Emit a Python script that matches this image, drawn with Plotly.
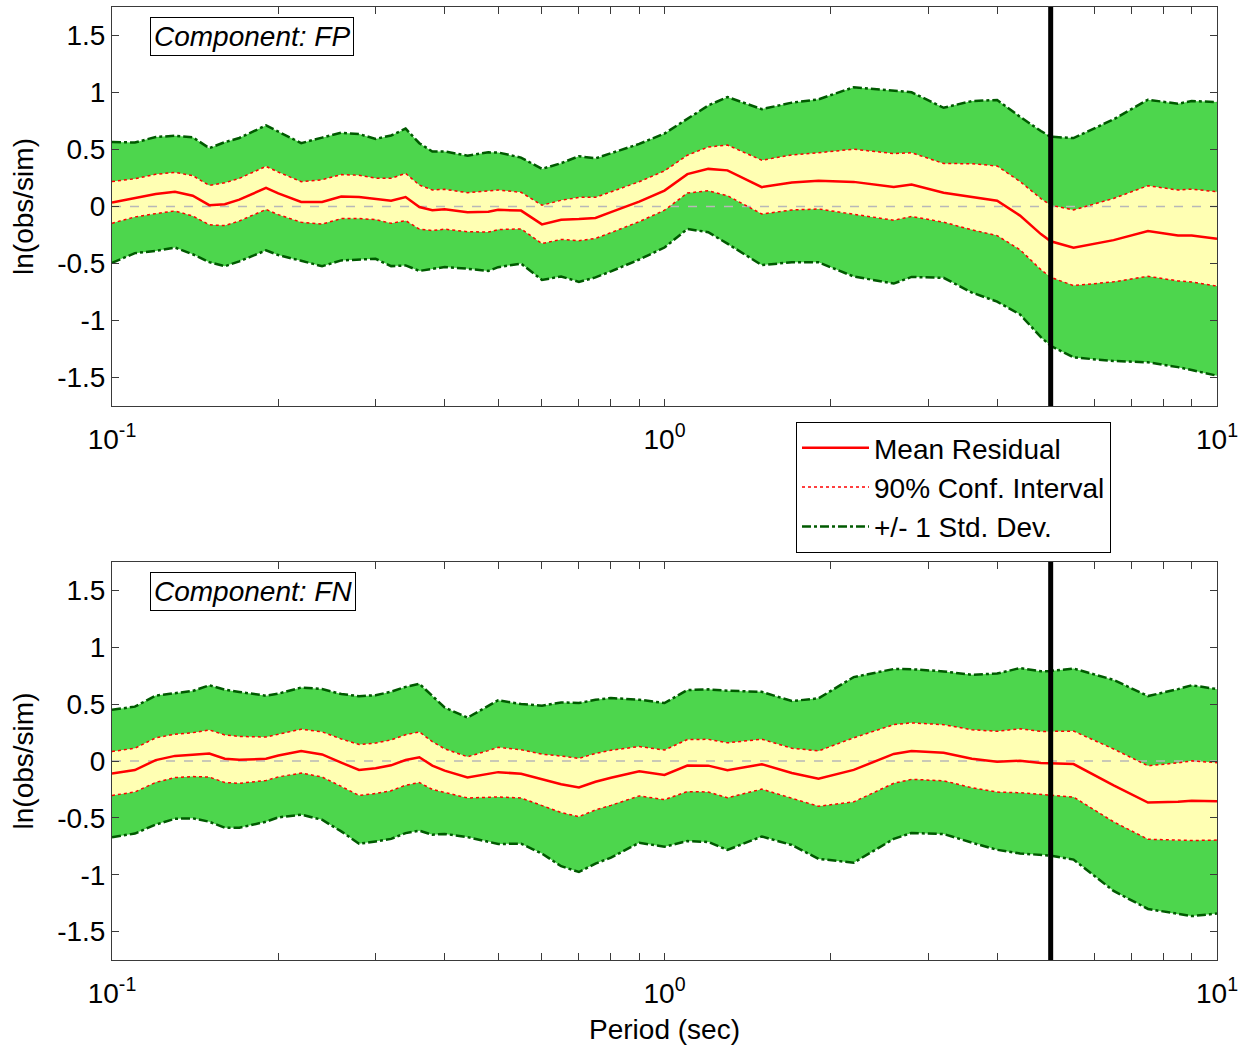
import plotly.graph_objects as go

# ---------------- data ----------------
periods = [0.1, 0.11, 0.12, 0.13, 0.14, 0.15, 0.16, 0.17, 0.19, 0.2,
           0.22, 0.24, 0.26, 0.28, 0.3, 0.32, 0.34, 0.36, 0.38, 0.4,
           0.44, 0.48, 0.5, 0.55, 0.6, 0.65, 0.7, 0.75, 0.8, 0.9,
           1.0, 1.1, 1.2, 1.3, 1.5, 1.7, 1.9, 2.2, 2.6, 2.8,
           3.2, 3.6, 4.0, 4.4, 4.8, 5.0, 5.5, 6.5, 7.5, 8.5,
           9.0, 10.0]

fp_mean = [0.036, 0.076, 0.11, 0.13, 0.094, 0.012, 0.02, 0.06, 0.163, 0.115,
           0.04, 0.04, 0.087, 0.084, 0.067, 0.05, 0.083, -0.005, -0.033, -0.024,
           -0.05, -0.045, -0.029, -0.036, -0.157, -0.117, -0.11, -0.1, -0.05, 0.042,
           0.14, 0.284, 0.33, 0.317, 0.17, 0.211, 0.225, 0.216, 0.172, 0.192,
           0.12, 0.085, 0.05, -0.08, -0.242, -0.305, -0.362, -0.295, -0.215, -0.254,
           -0.255, -0.284]
fp_std = [0.53, 0.485, 0.50, 0.49, 0.513, 0.50, 0.544, 0.541, 0.548, 0.541,
          0.516, 0.564, 0.56, 0.551, 0.526, 0.573, 0.60, 0.56, 0.516, 0.507,
          0.496, 0.52, 0.503, 0.465, 0.487, 0.497, 0.551, 0.522, 0.519, 0.507,
          0.50, 0.481, 0.556, 0.643, 0.684, 0.70, 0.715, 0.83, 0.848, 0.81,
          0.746, 0.84, 0.885, 0.867, 0.904, 0.917, 0.962, 1.06, 1.152, 1.155,
          1.18, 1.2]

fn_mean = [-0.11, -0.08, 0.008, 0.045, 0.056, 0.066, 0.02, 0.01, 0.02, 0.048,
           0.087, 0.058, -0.015, -0.079, -0.064, -0.038, 0.009, 0.033, -0.04, -0.085,
           -0.144, -0.114, -0.098, -0.113, -0.164, -0.205, -0.233, -0.182, -0.148, -0.09,
           -0.122, -0.04, -0.041, -0.082, -0.028, -0.106, -0.155, -0.078, 0.062, 0.087,
           0.073, 0.02, -0.006, 0.002, -0.018, -0.02, -0.027, -0.215, -0.365, -0.358,
           -0.349, -0.355]
fn_std = [0.56, 0.558, 0.567, 0.553, 0.56, 0.60, 0.607, 0.597, 0.554, 0.544,
          0.559, 0.575, 0.604, 0.649, 0.643, 0.647, 0.643, 0.646, 0.608, 0.556,
          0.525, 0.595, 0.632, 0.614, 0.65, 0.72, 0.743, 0.72, 0.702, 0.629,
          0.632, 0.664, 0.671, 0.70, 0.636, 0.633, 0.706, 0.816, 0.747, 0.72,
          0.715, 0.738, 0.775, 0.815, 0.807, 0.812, 0.84, 0.928, 0.936, 0.99,
          1.015, 0.987]

# 90% confidence half-width relative to the standard deviation (t / sqrt(n))
CI90_FACTOR = 0.345
CUTOFF_PERIOD = 5.0

components = ["FP", "FN"]
legend_names = ["Mean Residual", "90% Conf. Interval", "+/- 1 Std. Dev."]
ytick_vals = [-1.5, -1, -0.5, 0, 0.5, 1, 1.5]
ytick_text = ["-1.5", "-1", "-0.5", "0", "0.5", "1", "1.5"]
xtick_vals = [0.1, 1, 10]
xtick_text = ["10<sup>-1</sup>", "10<sup>0</sup>", "10<sup>1</sup>"]
xminor_vals = [0.2, 0.3, 0.4, 0.5, 0.6, 0.7, 0.8, 0.9, 2, 3, 4, 5, 6, 7, 8, 9]

# ---------------- styling ----------------
W, H = 1238, 1045
FONT = "Liberation Sans, Arial, sans-serif"
FS = 28
GREEN_FILL = "rgb(77,214,77)"
YELLOW_FILL = "rgb(255,255,179)"
SD_LINE = "rgb(0,90,0)"
RED = "rgb(255,0,0)"
AXIS_COL = "#3a3a3a"

fig = go.Figure()

panels = [(fp_mean, fp_std), (fn_mean, fn_std)]
for i, (mean, std) in enumerate(panels):
    xa = "x" if i == 0 else "x2"
    ya = "y" if i == 0 else "y2"
    sd_up = [m + s for m, s in zip(mean, std)]
    sd_lo = [m - s for m, s in zip(mean, std)]
    ci_up = [m + CI90_FACTOR * s for m, s in zip(mean, std)]
    ci_lo = [m - CI90_FACTOR * s for m, s in zip(mean, std)]
    xs_poly = periods + periods[::-1]
    fig.add_trace(go.Scatter(x=xs_poly, y=sd_up + sd_lo[::-1], fill="toself",
                             fillcolor=GREEN_FILL, line=dict(width=0),
                             mode="lines", showlegend=False, hoverinfo="skip",
                             xaxis=xa, yaxis=ya))
    fig.add_trace(go.Scatter(x=xs_poly, y=ci_up + ci_lo[::-1], fill="toself",
                             fillcolor=YELLOW_FILL, line=dict(width=0),
                             mode="lines", showlegend=False, hoverinfo="skip",
                             xaxis=xa, yaxis=ya))
    fig.add_trace(go.Scatter(x=[periods[0], periods[-1]], y=[0, 0], mode="lines",
                             line=dict(color="#b8b8b8", width=1.5, dash="dash"),
                             showlegend=False, hoverinfo="skip", xaxis=xa, yaxis=ya))
    for j, yy in enumerate([sd_up, sd_lo]):
        fig.add_trace(go.Scatter(x=periods, y=yy, mode="lines",
                                 line=dict(color=SD_LINE, width=2.5, dash="dashdot"),
                                 name=legend_names[2], legendrank=3,
                                 showlegend=(i == 0 and j == 0),
                                 xaxis=xa, yaxis=ya))
    for j, yy in enumerate([ci_up, ci_lo]):
        fig.add_trace(go.Scatter(x=periods, y=yy, mode="lines",
                                 line=dict(color=RED, width=1.5, dash="dot"),
                                 name=legend_names[1], legendrank=2,
                                 showlegend=(i == 0 and j == 0),
                                 xaxis=xa, yaxis=ya))
    fig.add_trace(go.Scatter(x=periods, y=mean, mode="lines",
                             line=dict(color=RED, width=2.5),
                             name=legend_names[0], legendrank=1,
                             showlegend=(i == 0), xaxis=xa, yaxis=ya))

    fig.add_shape(type="line", xref=xa, yref=f"{ya} domain",
                  x0=CUTOFF_PERIOD, x1=CUTOFF_PERIOD, y0=0, y1=1,
                  line=dict(color="black", width=5))
    fig.add_annotation(xref=f"{xa} domain", yref=f"{ya} domain",
                       x=0.034, y=0.975, xanchor="left", yanchor="top",
                       text=f"<i>Component: {components[i]}</i>", showarrow=False,
                       font=dict(family=FONT, size=FS, color="black"),
                       bordercolor="black", borderwidth=1, borderpad=3,
                       bgcolor="white")

xdom = [112 / W, 1217 / W]
ydoms = [[1 - 406 / H, 1 - 7 / H], [1 - 960 / H, 1 - 562 / H]]

def xaxis_cfg(anchor, dom_y, title=None):
    d = dict(type="log", range=[-1, 1], domain=xdom, anchor=anchor,
             tickvals=xtick_vals, ticktext=xtick_text,
             ticks="inside", ticklen=7, tickcolor=AXIS_COL,
             showline=True, linecolor=AXIS_COL, linewidth=1, mirror="allticks",
             showgrid=False, zeroline=False,
             minor=dict(tickvals=xminor_vals, ticks="inside", ticklen=7,
                        tickcolor=AXIS_COL, showgrid=False),
             tickfont=dict(family=FONT, size=FS, color="black"),
             ticklabelstandoff=8, ticklabeloverflow="allow",
             automargin=False)
    if title:
        d["title"] = dict(text=title, font=dict(family=FONT, size=FS, color="black"))
    return d

def yaxis_cfg(anchor, dom):
    return dict(range=[-1.75, 1.75], domain=dom, anchor=anchor,
                tickvals=ytick_vals, ticktext=ytick_text,
                ticks="inside", ticklen=7, tickcolor=AXIS_COL,
                showline=True, linecolor=AXIS_COL, linewidth=1, mirror="allticks",
                showgrid=False, zeroline=False,
                tickfont=dict(family=FONT, size=FS, color="black"),
                ticklabeloverflow="allow",
                title=dict(text="ln(obs/sim)", font=dict(family=FONT, size=FS, color="black")),
                automargin=False)

fig.update_layout(
    width=W, height=H,
    margin=dict(l=0, r=0, t=0, b=0),
    paper_bgcolor="white", plot_bgcolor="white",
    font=dict(family=FONT, size=FS, color="black"),
    xaxis=xaxis_cfg("y", ydoms[0]),
    yaxis=yaxis_cfg("x", ydoms[0]),
    xaxis2=xaxis_cfg("y2", ydoms[1], title="Period (sec)"),
    yaxis2=yaxis_cfg("x2", ydoms[1]),
    legend=dict(x=796 / W, y=1 - 422 / H, xanchor="left", yanchor="top",
                bgcolor="white", bordercolor="black", borderwidth=1,
                font=dict(family=FONT, size=FS, color="black"),
                itemwidth=67, traceorder="normal"),
    showlegend=True,
)

fig.write_html("out.html")
